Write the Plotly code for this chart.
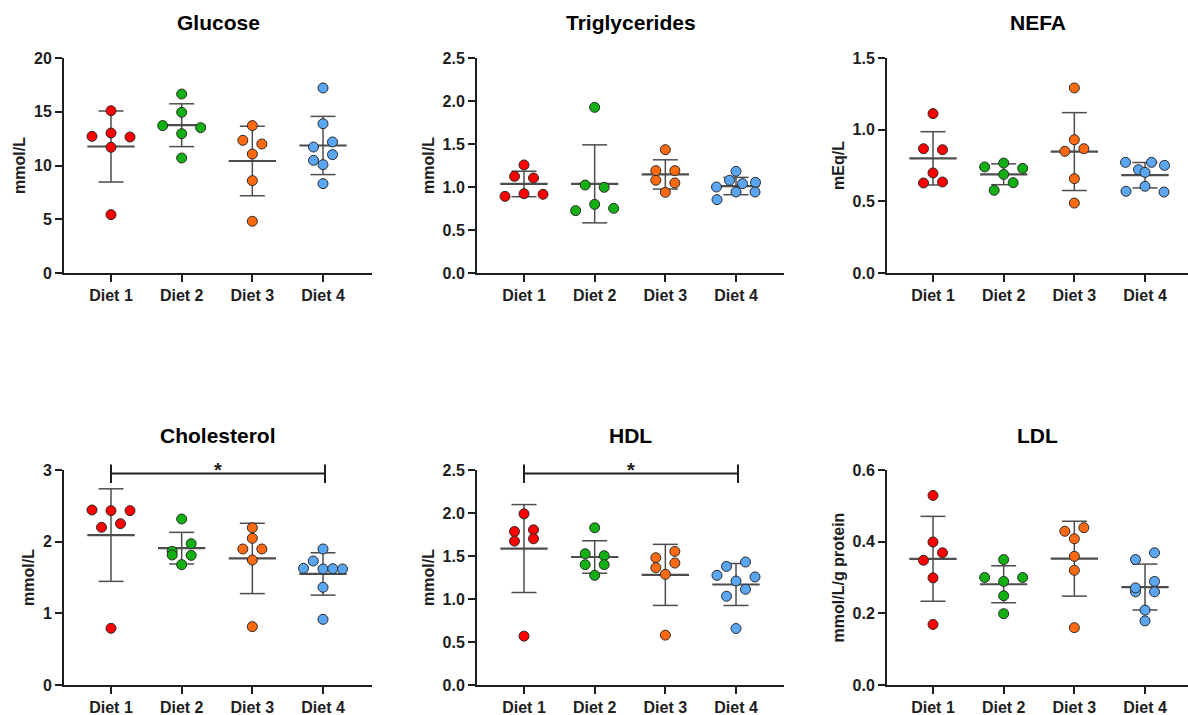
import numpy as np
import plotly.graph_objects as go

# ---------------------------------------------------------------- data
diets = ["Diet 1", "Diet 2", "Diet 3", "Diet 4"]
diet_colors = ["#FF0000", "#12B012", "#FF6A10", "#5AA6F2"]

glucose = [
    [15.1, 12.71, 13.02, 12.65, 11.69, 5.43],
    [16.65, 14.95, 13.71, 12.96, 13.52, 10.70],
    [13.71, 12.34, 12.0, 11.07, 8.59, 4.81],
    [17.21, 13.89, 11.72, 12.19, 10.48, 11.01, 10.08, 8.31],
]
triglycerides = [
    [1.256, 1.124, 1.105, 0.891, 0.922, 0.915],
    [1.926, 1.023, 0.996, 0.725, 0.798, 0.752],
    [1.434, 1.19, 1.19, 1.078, 1.047, 0.938],
    [1.182, 1.0, 1.078, 1.039, 1.054, 0.853, 0.942, 0.942],
]
nefa = [
    [1.112, 0.867, 0.860, 0.698, 0.628, 0.635],
    [0.74, 0.767, 0.73, 0.688, 0.577, 0.63],
    [1.291, 0.93, 0.849, 0.867, 0.658, 0.488],
    [0.772, 0.721, 0.772, 0.751, 0.702, 0.57, 0.605, 0.565],
]
cholesterol = [
    [2.442, 2.433, 2.433, 2.2, 2.251, 0.791],
    [2.316, 1.865, 1.972, 1.814, 1.809, 1.679],
    [2.195, 2.047, 1.898, 1.898, 1.744, 0.814],
    [1.898, 1.628, 1.73, 1.619, 1.623, 1.619, 1.363, 0.916],
]
hdl = [
    [1.99, 1.785, 1.804, 1.673, 1.70, 0.568],
    [1.828, 1.526, 1.503, 1.399, 1.399, 1.275],
    [1.48, 1.553, 1.364, 1.418, 1.287, 0.58],
    [1.379, 1.43, 1.275, 1.209, 1.256, 1.032, 1.113, 0.657],
]
ldl = [
    [0.529, 0.399, 0.348, 0.369, 0.299, 0.169],
    [0.35, 0.30, 0.289, 0.30, 0.249, 0.199],
    [0.429, 0.439, 0.408, 0.359, 0.32, 0.16],
    [0.35, 0.369, 0.26, 0.271, 0.289, 0.26, 0.209, 0.179],
]

panels = [
    dict(title="Glucose", unit="mmol/L", data=glucose, ymax=20, dtick=5, fmt="d"),
    dict(title="Triglycerides", unit="mmol/L", data=triglycerides, ymax=2.5, dtick=0.5, fmt=".1f"),
    dict(title="NEFA", unit="mEq/L", data=nefa, ymax=1.5, dtick=0.5, fmt=".1f"),
    dict(title="Cholesterol", unit="mmol/L", data=cholesterol, ymax=3, dtick=1, fmt="d", sig=(0, 3)),
    dict(title="HDL", unit="mmol/L", data=hdl, ymax=2.5, dtick=0.5, fmt=".1f", sig=(0, 3)),
    dict(title="LDL", unit="mmol/L/g protein", data=ldl, ymax=0.6, dtick=0.2, fmt=".1f"),
]

# ---------------------------------------------------------------- layout geometry (pixels)
W, H = 1188, 715
ROWS = [(58, 273), (470, 685)]                          # plot top / bottom
COLS = [(64, 111, 372), (477, 524, 784), (887, 933, 1195)]  # axis left, first category, axis right
STEP = 70.67                                            # pixels between categories
FONT = "Liberation Sans, Arial, Helvetica, sans-serif"
INK = "#1e1e1e"
BAR = "#4d4d4d"


def swarm(values, px_per_unit, row_h=8.2, gap=19.0, max_w=39.0):
    """Horizontal offsets (category units) that spread points sharing a row."""
    vals = np.asarray(values, float)
    order = sorted(range(len(vals)), key=lambda i: -vals[i])
    rows = []
    for i in order:
        if rows and (vals[rows[-1][0]] - vals[i]) * px_per_unit <= row_h:
            rows[-1].append(i)
        else:
            rows.append([i])
    offs = np.zeros(len(vals))
    for r in rows:
        r = sorted(r)
        k = len(r)
        g = gap if k < 3 else min(gap, max_w / (k - 1))
        for j, i in enumerate(r):
            offs[i] = (j - (k - 1) / 2) * g / STEP
    return offs


fig = go.Figure()
layout = dict(
    width=W, height=H, margin=dict(l=0, r=0, t=0, b=0, autoexpand=False),
    paper_bgcolor="white", plot_bgcolor="white", showlegend=False,
    font=dict(family=FONT, color=INK),
)
shapes, annotations = [], []

for p, panel in enumerate(panels):
    row, col = divmod(p, 3)
    top, bottom = ROWS[row]
    left, c0, right = COLS[col]
    right_vis = min(right, W)
    xr = [(left - c0) / STEP, (right_vis - c0) / STEP]
    px_per_unit = (bottom - top) / panel["ymax"]
    sfx = "" if p == 0 else str(p + 1)
    xa, ya = "x" + sfx, "y" + sfx

    layout["xaxis" + sfx] = dict(
        domain=[left / W, right_vis / W], range=xr, anchor=ya,
        showline=True, linewidth=2, linecolor=INK, showgrid=False, zeroline=False,
        tickvals=[0, 1, 2, 3], ticktext=diets, ticks="outside", ticklen=7,
        tickwidth=1.5, tickcolor=INK, fixedrange=True, automargin=False,
        tickfont=dict(family=FONT, size=16, color=INK, weight="bold"),
    )
    layout["yaxis" + sfx] = dict(
        domain=[1 - bottom / H, 1 - top / H], range=[0, panel["ymax"]], anchor=xa,
        showline=True, linewidth=2, linecolor=INK, showgrid=False, zeroline=False,
        dtick=panel["dtick"], tick0=0, tickformat=panel["fmt"], ticks="outside",
        ticklen=7, tickwidth=1.5, tickcolor=INK, fixedrange=True, automargin=False,
        tickfont=dict(family=FONT, size=16, color=INK, weight="bold"),
        title=dict(text=panel["unit"], font=dict(family=FONT, size=16, color=INK, weight="bold"),
                   standoff=4),
    )
    annotations.append(dict(
        text=panel["title"], xref="paper", yref="paper",
        x=(left + right_vis) / 2 / W, y=1 - (top - 35) / H,
        xanchor="center", yanchor="middle", showarrow=False,
        font=dict(family=FONT, size=21, color="#000", weight="bold"),
    ))

    for g, vals in enumerate(panel["data"]):
        vals = np.asarray(vals, float)
        m, s = vals.mean(), vals.std(ddof=1)
        cap, half = 0.177, 0.335
        fig.add_trace(go.Scatter(
            x=[g, g, None, g - cap, g + cap, None, g - cap, g + cap],
            y=[m - s, m + s, None, m + s, m + s, None, m - s, m - s],
            mode="lines", line=dict(color=BAR, width=1.5),
            xaxis=xa, yaxis=ya, hoverinfo="skip",
        ))
        fig.add_trace(go.Scatter(
            x=[g - half, g + half], y=[m, m], mode="lines",
            line=dict(color=BAR, width=2.2), xaxis=xa, yaxis=ya, hoverinfo="skip",
        ))
        fig.add_trace(go.Scatter(
            x=g + swarm(vals, px_per_unit), y=vals, mode="markers",
            marker=dict(size=10, color=diet_colors[g], line=dict(color="#2a2a2a", width=1)),
            xaxis=xa, yaxis=ya, cliponaxis=False, name=diets[g],
        ))

    if "sig" in panel:
        a, b = panel["sig"]
        xa_px, xb_px = c0 + a * STEP, c0 + b * STEP + 2
        y_line = top + 3.5
        lw = dict(color=INK, width=2)
        shapes.append(dict(type="line", xref="paper", yref="paper",
                           x0=xa_px / W, x1=xb_px / W, y0=1 - y_line / H, y1=1 - y_line / H, line=lw))
        for xp in (xa_px, xb_px):
            shapes.append(dict(type="line", xref="paper", yref="paper",
                               x0=xp / W, x1=xp / W, y0=1 - (y_line - 9) / H,
                               y1=1 - (y_line + 9.5) / H, line=lw))
        annotations.append(dict(
            text="*", xref="paper", yref="paper", x=(xa_px + xb_px) / 2 / W,
            y=1 - (y_line + 9) / H, xanchor="center", yanchor="bottom", showarrow=False,
            font=dict(family=FONT, size=20, color=INK, weight="bold"),
        ))

layout["shapes"] = shapes
layout["annotations"] = annotations
fig.update_layout(**layout)
fig.write_html("out.html")
